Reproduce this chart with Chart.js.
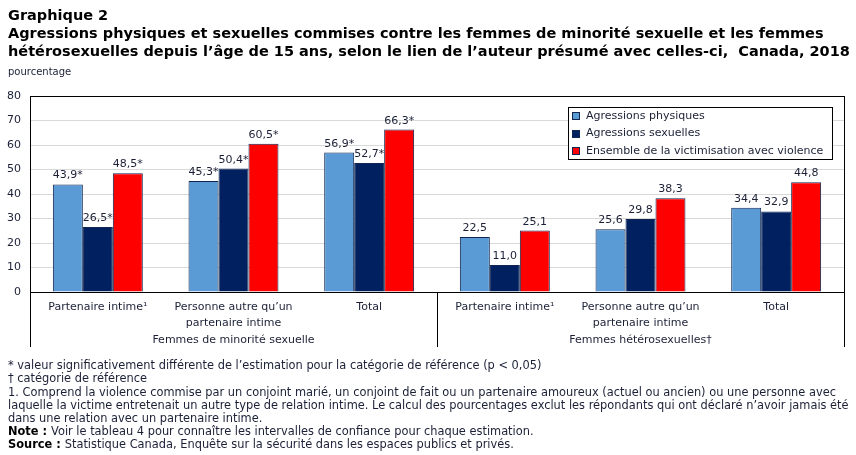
<!DOCTYPE html>
<html><head><meta charset="utf-8">
<script src="https://cdn.jsdelivr.net/npm/chart.js@4/dist/chart.umd.min.js"></script>
<style>html,body{margin:0;padding:0;background:#fff}#wrap{position:relative;width:856px;height:455px}</style>
</head><body><div id="wrap"><canvas id="c" width="856" height="455"></canvas></div>
<script>
// ---- data ----
const categories = [
  'Partenaire intime\u00b9', ['Personne autre qu\u2019un', 'partenaire intime'], 'Total',
  'Partenaire intime\u00b9', ['Personne autre qu\u2019un', 'partenaire intime'], 'Total'
];
const groups = ['Femmes de minorit\u00e9 sexuelle', 'Femmes h\u00e9t\u00e9rosexuelles\u2020'];
const seriesNames = ['Agressions physiques', 'Agressions sexuelles', 'Ensemble de la victimisation avec violence'];
const physical = [43.9, 45.3, 56.9, 22.5, 25.6, 34.4];
const sexual   = [26.5, 50.4, 52.7, 11.0, 29.8, 32.9];
const overall  = [48.5, 60.5, 66.3, 25.1, 38.3, 44.8];
const significant = [true, true, true, false, false, false];
const yTicks = [0, 10, 20, 30, 40, 50, 60, 70, 80];

const titleLines = [
  'Graphique 2',
  'Agressions physiques et sexuelles commises contre les femmes de minorit\u00e9 sexuelle et les femmes',
  'h\u00e9t\u00e9rosexuelles depuis l\u2019\u00e2ge de 15 ans, selon le lien de l\u2019auteur pr\u00e9sum\u00e9 avec celles-ci,  Canada, 2018'
];
const yTitle = 'pourcentage';
const notes = [
  ['', '* valeur significativement diff\u00e9rente de l\u2019estimation pour la cat\u00e9gorie de r\u00e9f\u00e9rence (p < 0,05)'],
  ['', '\u2020 cat\u00e9gorie de r\u00e9f\u00e9rence'],
  ['', '1. Comprend la violence commise par un conjoint mari\u00e9, un conjoint de fait ou un partenaire amoureux (actuel ou ancien) ou une personne avec'],
  ['', 'laquelle la victime entretenait un autre type de relation intime. Le calcul des pourcentages exclut les r\u00e9pondants qui ont d\u00e9clar\u00e9 n\u2019avoir jamais \u00e9t\u00e9'],
  ['', 'dans une relation avec un partenaire intime.'],
  ['Note : ', 'Voir le tableau 4 pour conna\u00eetre les intervalles de confiance pour chaque estimation.'],
  ['Source : ', 'Statistique Canada, Enqu\u00eate sur la s\u00e9curit\u00e9 dans les espaces publics et priv\u00e9s.']
];

const colors = ['#5b9bd5', '#002060', '#ff0000'];
const borderCol = '#0f2550';
const textCol = '#1b2036';
const font = '"DejaVu Sans", sans-serif';

function fmt(v, i) { return v.toFixed(1).replace('.', ',') + (significant[i] ? '*' : ''); }

// pick a font size so that a reference line spans the given width
function fitSize(ctx, text, weight, target) {
  ctx.font = weight + ' 10px ' + font;
  const w = ctx.measureText(text).width;
  return Math.round(10 * target / w * 10) / 10;
}

const decor = {
  id: 'decor',
  beforeDraw(chart) {
    const ctx = chart.ctx;
    ctx.save();
    ctx.fillStyle = '#fff';
    ctx.fillRect(0, 0, chart.width, chart.height);
    ctx.restore();
  },
  afterDraw(chart) {
    const ctx = chart.ctx;
    const a = chart.chartArea;
    const x = chart.scales.x;
    ctx.save();
    // plot frame
    ctx.strokeStyle = '#000';
    ctx.lineWidth = 1;
    ctx.strokeRect(Math.round(a.left) + 0.5, Math.round(a.top) + 0.5, Math.round(a.right - a.left), Math.round(a.bottom - a.top));
    // vertical dividers below axis
    const n = categories.length;
    const step = (a.right - a.left) / n;
    const divs = [a.left, a.left + step * 3, a.right];
    ctx.beginPath();
    divs.forEach(d => { const xx = Math.round(d) + 0.5; ctx.moveTo(xx, a.bottom); ctx.lineTo(xx, a.bottom + 55); });
    ctx.stroke();
    // group labels
    ctx.fillStyle = textCol;
    ctx.font = '11px ' + font;
    ctx.textAlign = 'center';
    ctx.textBaseline = 'middle';
    groups.forEach((g, gi) => {
      const cx = (x.getPixelForValue(gi * 3) + x.getPixelForValue(gi * 3 + 2)) / 2;
      ctx.fillText(g, cx, 340);
    });
    // data labels
    ctx.font = '11px ' + font;
    ctx.textBaseline = 'alphabetic';
    chart.data.datasets.forEach((ds, di) => {
      const meta = chart.getDatasetMeta(di);
      meta.data.forEach((bar, i) => {
        ctx.fillText(fmt(ds.data[i], i), bar.x, bar.y - 6);
      });
    });
    // legend
    const lx = 568, ly = 107, lw = 264, lh = 52;
    ctx.fillStyle = '#fff';
    ctx.fillRect(lx, ly, lw, lh);
    ctx.strokeStyle = '#000';
    ctx.strokeRect(lx + 0.5, ly + 0.5, lw, lh);
    ctx.textAlign = 'left';
    ctx.textBaseline = 'middle';
    seriesNames.forEach((s, i) => {
      const yy = 116 + i * 17.5;
      ctx.fillStyle = colors[i];
      ctx.fillRect(572, Math.round(yy) - 4, 8, 8);
      ctx.strokeStyle = '#0f2550';
      ctx.strokeRect(572.5, Math.round(yy) - 3.5, 7, 7);
      ctx.fillStyle = textCol;
      ctx.fillText(s, 586, yy);
    });
    // titles
    ctx.fillStyle = '#000';
    ctx.textBaseline = 'alphabetic';
    const ts = fitSize(ctx, titleLines[2], 'bold', 840);
    ctx.font = 'bold ' + ts + 'px ' + font;
    ctx.fillText(titleLines[0], 8, 20);
    ctx.fillText(titleLines[1], 8, 38);
    ctx.fillText(titleLines[2], 8, 56);
    ctx.font = '10px ' + font;
    ctx.fillStyle = textCol;
    ctx.fillText(yTitle, 8, 75);
    // notes
    const ns = fitSize(ctx, notes[3][1], 'normal', 838);
    const ys = [369, 382, 396, 409, 422, 435, 448];
    notes.forEach((nt, i) => {
      let xx = 8;
      if (nt[0]) {
        ctx.font = 'bold ' + ns + 'px ' + font;
        ctx.fillStyle = '#000';
        ctx.fillText(nt[0], xx, ys[i]);
        xx += ctx.measureText(nt[0]).width;
      }
      ctx.font = ns + 'px ' + font;
      ctx.fillStyle = textCol;
      ctx.fillText(nt[1], xx, ys[i]);
    });
    ctx.restore();
  }
};

new Chart(document.getElementById('c'), {
  type: 'bar',
  data: {
    labels: categories,
    datasets: [physical, sexual, overall].map((d, i) => ({
      label: seriesNames[i],
      data: d,
      backgroundColor: colors[i],
      borderColor: borderCol,
      borderWidth: 1,
      barPercentage: 1,
      categoryPercentage: 0.663
    }))
  },
  options: {
    responsive: false,
    animation: false,
    devicePixelRatio: 1,
    layout: { padding: { left: 0, top: 96, right: 12, bottom: 0 } },
    plugins: { legend: { display: false }, tooltip: { enabled: false } },
    scales: {
      x: {
        grid: { display: false, drawTicks: false },
        border: { display: false },
        ticks: { color: textCol, padding: 7, maxRotation: 0, autoSkip: false,
                 font: { family: font, size: 11, lineHeight: 1.45 } },
        afterFit(s) { s.height = 163; }
      },
      y: {
        min: 0, max: 80,
        afterBuildTicks(s) { s.ticks = yTicks.map(v => ({ value: v })); },
        grid: { color: '#d9d9d9', drawTicks: false },
        border: { display: false },
        ticks: { color: textCol, padding: 9, font: { family: font, size: 11 } },
        afterFit(s) { s.width = 30; }
      }
    }
  },
  plugins: [decor]
});
</script></body></html>
